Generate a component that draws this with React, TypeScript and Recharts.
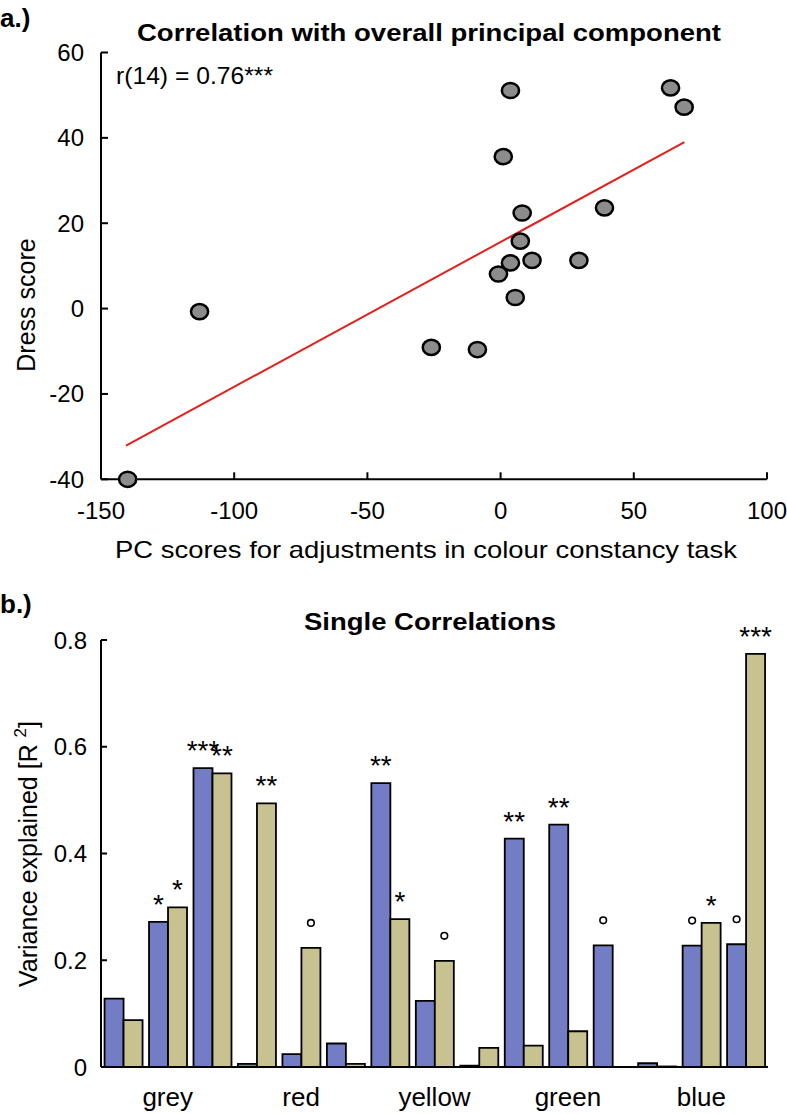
import React from "react";
import { ScatterChart, Scatter, XAxis, YAxis, BarChart, Bar, LabelList } from "recharts";

// panel a: PC scores vs dress score, one entry per observer
const pcScores = [-140, -113, -26, -8.7, -0.8, 3.7, 5.5, 11.8, 7.4, 8.1, 1.0, 3.7, 29.4, 39.0, 63.8, 68.9];
const dressScores = [-40, -0.7, -9.1, -9.6, 8.1, 10.7, 2.6, 11.3, 15.8, 22.4, 35.6, 51.1, 11.3, 23.6, 51.7, 47.2];

// regression line end points
const fitX = [-140.6, 69];
const fitY = [-32.1, 39];

const xTicksA = [-150, -100, -50, 0, 50, 100];
const yTicksA = [-40, -20, 0, 20, 40, 60];

// panel b: three conditions per colour
const colourNames = ["grey", "red", "yellow", "green", "blue"];
const varBlue = [0.128, 0.272, 0.56, 0.006, 0.024, 0.044, 0.532, 0.124, 0.0025, 0.428, 0.454, 0.228, 0.007, 0.2275, 0.23];
const varTan = [0.088, 0.299, 0.55, 0.494, 0.223, 0.006, 0.277, 0.199, 0.036, 0.04, 0.067, 0, 0.001, 0.27, 0.774];
const sigBlue = ["", "*", "***", "", "", "", "**", "", "", "**", "**", "o", "", "o", "o"];
const sigTan = ["", "*", "**", "**", "o", "", "*", "o", "", "", "", "", "", "*", "***"];
const yTicksB = [0, 0.2, 0.4, 0.6, 0.8];

const FONT = "'Liberation Sans', Arial, Helvetica, sans-serif";

const scatterData = pcScores.map((x, i) => ({ x, y: dressScores[i] }));
const fitData = fitX.map((x, i) => ({ x, y: fitY[i] }));

const barData = varBlue.map((v, i) => ({
  id: `${colourNames[Math.floor(i / 3)]} ${(i % 3) + 1}`,
  blue: v,
  tan: varTan[i],
  sigBlue: sigBlue[i],
  sigTan: sigTan[i],
}));

const Dot = (props: any) => (
  <ellipse cx={props.cx} cy={props.cy} rx={8.6} ry={7.6} fill="#8c8c8c" stroke="#000" strokeWidth={2.5} />
);

const SigLabel = (props: any) => {
  const { x, y, width, value } = props;
  if (!value) return null;
  const cx = Number(x) + Number(width) / 2;
  if (value === "o") {
    return (
      <circle cx={cx} cy={Number(y) - 25} r={3.3} fill="none" stroke="#000" strokeWidth={1.6} />
    );
  }
  return (
    <text x={cx} y={Number(y) - 8} textAnchor="middle" fontFamily={FONT} fontSize={28} fill="#000">
      {value}
    </text>
  );
};

const axisStyle = { stroke: "#000", strokeWidth: 2 };
const tickStyle = { fill: "#000", fontSize: 24, fontFamily: FONT };

export default function App() {
  return (
    <div style={{ position: "absolute", left: 0, top: 0, width: 787, height: 1114, background: "#fff" }}>
      <div style={{ position: "absolute", left: 0, top: 0 }}>
        <ScatterChart width={787} height={600} margin={{ top: 52.5, right: 20, bottom: 0, left: 0 }}>
          <XAxis
            type="number"
            dataKey="x"
            domain={[-150, 100]}
            ticks={xTicksA}
            height={120.7}
            axisLine={axisStyle}
            tickLine={axisStyle}
            tickSize={-7}
            tickMargin={30}
            tick={tickStyle}
          />
          <YAxis
            type="number"
            dataKey="y"
            domain={[-40, 60]}
            ticks={yTicksA}
            width={101}
            axisLine={axisStyle}
            tickLine={axisStyle}
            tickSize={-7}
            tickMargin={24}
            tick={tickStyle}
          />
          <Scatter
            data={fitData}
            line={{ stroke: "#e3201b", strokeWidth: 2 }}
            shape={() => <g />}
            isAnimationActive={false}
          />
          <Scatter data={scatterData} shape={Dot} isAnimationActive={false} />
        </ScatterChart>
      </div>

      <div style={{ position: "absolute", left: 0, top: 600 }}>
        <BarChart
          width={787}
          height={514}
          data={barData}
          margin={{ top: 40, right: 19, bottom: 0, left: 0 }}
          barGap={0}
          barCategoryGap="8%"
        >
          <XAxis
            dataKey="id"
            height={47}
            axisLine={axisStyle}
            tickLine={false}
            tickSize={0}
            tickMargin={21}
            interval={0}
            tick={{ ...tickStyle, fontSize: 26 }}
            tickFormatter={(v: string) => (v.endsWith(" 2") ? v.split(" ")[0] : "")}
          />
          <YAxis
            domain={[0, 0.8]}
            ticks={yTicksB}
            width={101}
            axisLine={axisStyle}
            tickLine={axisStyle}
            tickSize={-6}
            tickMargin={20}
            tick={tickStyle}
            tickFormatter={(v: number) => (v === 0 ? "0" : String(v))}
          />
          <Bar dataKey="blue" fill="#737dc5" stroke="#000" strokeWidth={1.8} isAnimationActive={false}>
            <LabelList dataKey="sigBlue" content={SigLabel} />
          </Bar>
          <Bar dataKey="tan" fill="#c7c290" stroke="#000" strokeWidth={1.8} isAnimationActive={false}>
            <LabelList dataKey="sigTan" content={SigLabel} />
          </Bar>
        </BarChart>
      </div>

      <svg
        width={787}
        height={1114}
        style={{ position: "absolute", left: 0, top: 0, pointerEvents: "none" }}
        fontFamily={FONT}
      >
        <text x={0} y={27} fontSize={26} fontWeight="bold">a.)</text>
        <text x={137} y={41} fontSize={24} fontWeight="bold" textLength={584} lengthAdjust="spacingAndGlyphs">
          Correlation with overall principal component
        </text>
        <text x={116} y={84} fontSize={24} textLength={157} lengthAdjust="spacingAndGlyphs">
          r(14) = 0.76***
        </text>
        <text x={115} y={558} fontSize={24} textLength={622} lengthAdjust="spacingAndGlyphs">
          PC scores for adjustments in colour constancy task
        </text>
        <text x={35} y={305} fontSize={25} textAnchor="middle" transform="rotate(-90 35 305)">
          Dress score
        </text>

        <text x={0} y={613} fontSize={26} fontWeight="bold">b.)</text>
        <text x={304} y={630} fontSize={24} fontWeight="bold" textLength={252} lengthAdjust="spacingAndGlyphs">
          Single Correlations
        </text>
        <text x={37} y={854} fontSize={25} textAnchor="middle" transform="rotate(-90 37 854)">
          Variance explained [R <tspan fontSize={17} dy={-11}>2</tspan>
          <tspan dy={11}>]</tspan>
        </text>
      </svg>
    </div>
  );
}
